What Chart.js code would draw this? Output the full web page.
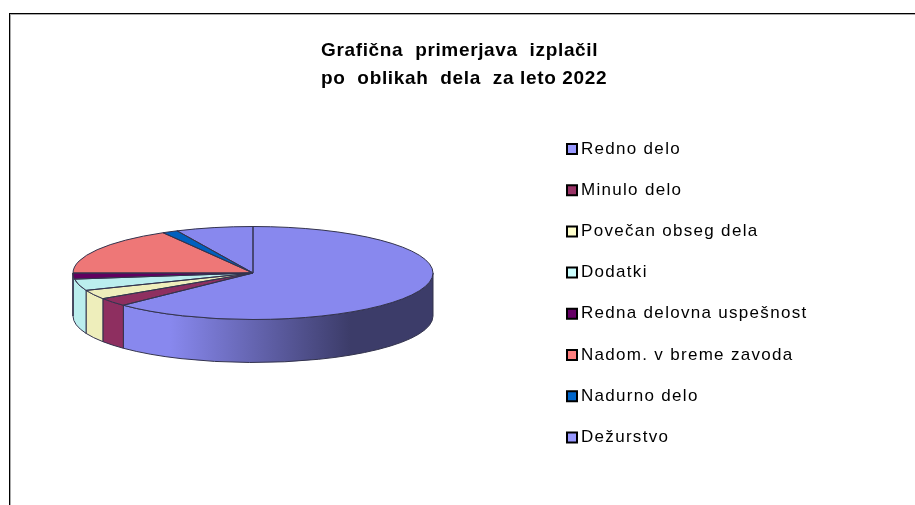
<!DOCTYPE html>
<html>
<head>
<meta charset="utf-8">
<script src="https://cdn.jsdelivr.net/npm/chart.js@4"></script>
<style>
  html, body { margin: 0; padding: 0; background: #fff; overflow: hidden; }
  canvas { display: block; }
</style>
</head>
<body>
<canvas id="pie" width="915" height="505"></canvas>
<script>
const titleLines = ['Grafična  primerjava  izplačil', 'po  oblikah  dela  za leto 2022'];
const categories = ['Redno delo', 'Minulo delo', 'Povečan obseg dela', 'Dodatki',
  'Redna delovna uspešnost', 'Nadom. v breme zavoda', 'Nadurno delo', 'Dežurstvo'];
const shares = [62.8, 2.9, 3.2, 4.0, 2.1, 16.67, 1.4, 6.93];
const topColors = ['#8888EE', '#8E2F60', '#EEEEBB', '#BBEEEE', '#600060', '#EE7777', '#0060BE', '#8888EE'];
// The purple slice has no visible wall in the original, the cyan one runs up to the edge
const wallColors = ['#8888EE', '#8E2F60', '#EEEEBB', '#BBEEEE', null, '#EE7777', '#0060BE', '#8888EE'];
const legendColors = ['#9999FF', '#993366', '#FFFFCC', '#CCFFFF', '#660066', '#FF8080', '#0066CC', '#9999FF'];

// Flattened disc placement
const cx = 253, cy = 273, radius = 180, flat = 46.5 / 180, depth = 43;

function shade(hex, f) {
  const n = parseInt(hex.slice(1), 16);
  const c = [n >> 16, (n >> 8) & 255, n & 255].map(v => Math.round(v * f));
  return `rgb(${c[0]},${c[1]},${c[2]})`;
}

function wallGradient(ctx, color) {
  const g = ctx.createLinearGradient(cx - radius, 0, cx + radius, 0);
  g.addColorStop(0, color);
  g.addColorStop(0.27, color);
  g.addColorStop(0.77, shade(color, 0.44));
  g.addColorStop(1, shade(color, 0.44));
  return g;
}

// Adds an arc of the flattened disc to the path, at the given height offset
function ellipseArc(ctx, a0, a1, dy, ccw) {
  ctx.ellipse(cx, cy + dy, radius, radius * flat, 0, a0, a1, ccw);
}

// The original text is set wider than the fonts here
function spaceOut(box, ctx, px) {
  if (box.spaced) return;
  const draw = box.draw;
  box.draw = function (...args) {
    ctx.letterSpacing = px;
    draw.apply(this, args);
    ctx.letterSpacing = '0px';
  };
  box.spaced = true;
}

const pie3d = {
  id: 'pie3d',
  beforeDraw(chart) {
    const ctx = chart.ctx;
    ctx.save();
    ctx.fillStyle = '#000';
    ctx.fillRect(9, 13, 906, 1);
    ctx.fillRect(9, 13, 1, 492);
    ctx.fillStyle = '#aaa';
    ctx.fillRect(10, 14, 905, 1);
    ctx.fillRect(10, 14, 1, 491);
    ctx.restore();
  },
  afterLayout(chart) {
    // Put the title and the legend where the original has them
    chart.titleBlock.left = 321;
    chart.titleBlock.right = 700;
    spaceOut(chart.titleBlock, chart.ctx, '0.65px');
    const legend = chart.legend;
    legend.left = 571.5 - legend.options.labels.padding;
    legend.top = 140.5 - legend.options.labels.padding;
    legend.bottom = legend.top + legend.height;
    spaceOut(legend, chart.ctx, '1.3px');
  },
  beforeDatasetDraw(chart, args) {
    const ctx = chart.ctx;
    const arcs = args.meta.data;
    const full = Math.PI * 2;
    // Front wall: only the part of each slice between canvas angles 0 and PI
    ctx.save();
    ctx.strokeStyle = '#33334d';
    ctx.lineWidth = 1;
    arcs.forEach((arc, i) => {
      if (!wallColors[i]) return;
      const end = wallColors[i + 1] === null ? arcs[i + 1] : arc;
      let a0 = arc.startAngle, a1 = end.endAngle;
      if (a0 < 0 && a1 <= 0) { a0 += full; a1 += full; }
      a0 = Math.max(a0, 0);
      a1 = Math.min(a1, Math.PI);
      if (a1 <= a0) return;
      ctx.beginPath();
      ellipseArc(ctx, a0, a1, 0, false);
      ellipseArc(ctx, a1, a0, depth, true);
      ctx.closePath();
      ctx.fillStyle = wallGradient(ctx, wallColors[i]);
      ctx.fill();
      ctx.stroke();
    });
    ctx.restore();
    // Top face: the library draws the arcs, squashed onto the disc
    ctx.save();
    const c = arcs[0];
    ctx.translate(cx, cy);
    ctx.scale(1, flat);
    ctx.translate(-c.x, -c.y);
  },
  afterDatasetDraw(chart, args) {
    const ctx = chart.ctx;
    ctx.restore();
    // Outlines are stroked without the squash so they stay one pixel wide
    ctx.save();
    ctx.strokeStyle = '#33334d';
    ctx.lineWidth = 1;
    ctx.lineJoin = 'round';
    args.meta.data.forEach(arc => {
      ctx.beginPath();
      ctx.moveTo(cx, cy);
      ellipseArc(ctx, arc.startAngle, arc.endAngle, 0, false);
      ctx.closePath();
      ctx.stroke();
    });
    ctx.restore();
  }
};

new Chart(document.getElementById('pie'), {
  type: 'pie',
  data: {
    labels: categories,
    datasets: [{
      data: shares,
      backgroundColor: topColors,
      borderWidth: 0,
      radius: radius
    }]
  },
  options: {
    responsive: false,
    animation: false,
    events: [],
    plugins: {
      tooltip: { enabled: false },
      title: {
        display: true,
        text: titleLines,
        align: 'start',
        color: '#000',
        font: { family: '"Liberation Sans", Arial, sans-serif', size: 19, weight: 'bold', lineHeight: 1.47 },
        padding: { top: 37, bottom: 10 }
      },
      legend: {
        position: 'right',
        align: 'start',
        labels: {
          usePointStyle: true,
          boxWidth: 1,
          boxHeight: 10,
          padding: 24.2,
          color: '#222',
          font: { family: '"Liberation Sans", Arial, sans-serif', size: 17 },
          generateLabels: () => categories.map((text, i) => ({
            text,
            fillStyle: legendColors[i],
            strokeStyle: '#000',
            lineWidth: 2,
            pointStyle: 'rect',
            hidden: false,
            index: i
          }))
        }
      }
    }
  },
  plugins: [pie3d]
});
</script>
</body>
</html>
